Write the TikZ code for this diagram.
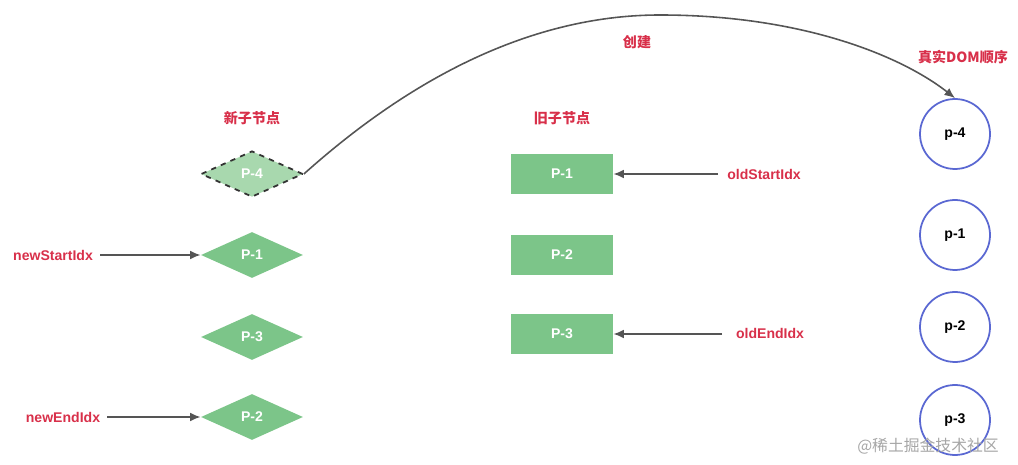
\documentclass[tikz,border=0pt]{standalone}
\usepackage{fontspec}
\setmainfont{Liberation Sans}
\newfontfamily\cjk{Noto Sans CJK SC}
\usetikzlibrary{shapes.geometric,arrows.meta}
\definecolor{lbl}{HTML}{D8304A}
\definecolor{gr}{HTML}{7CC589}
\definecolor{grl}{HTML}{A8D8AE}
\definecolor{bl}{HTML}{5A68D2}
\definecolor{ar}{HTML}{555555}
\tikzset{
 dia/.style={diamond,aspect=2.2,minimum width=102*0.02cm,minimum height=46*0.02cm,inner sep=0pt,fill=gr,text=white,font=\bfseries\footnotesize},
 rbox/.style={rectangle,minimum width=102*0.02cm,minimum height=40*0.02cm,fill=gr,text=white,font=\bfseries\footnotesize},
 circ/.style={circle,minimum size=70*0.02cm,draw=bl,line width=1pt,font=\bfseries\footnotesize},
 lab/.style={text=lbl,font=\bfseries\footnotesize},
 clab/.style={text=lbl,font=\cjk\bfseries\footnotesize},
 arr/.style={draw=ar,line width=0.9pt,-{Latex[length=6pt,width=5pt]}}
}
\begin{document}
\begin{tikzpicture}[x=0.02cm,y=-0.02cm]
\useasboundingbox (0,0) rectangle (1018,465);
\node[dia,fill=grl,draw=black!80,dashed,line width=1pt] (n4) at (252,174) {P-4};
\node[dia] (n1) at (252,255) {P-1};
\node[dia] (n3) at (252,337) {P-3};
\node[dia] (n2) at (252,417) {P-2};
\node[rbox] (o1) at (562,174) {P-1};
\node[rbox] (o2) at (562,255) {P-2};
\node[rbox] (o3) at (562,334) {P-3};
\node[circ] (c4) at (955,134) {p-4};
\node[circ] (c1) at (955,235) {p-1};
\node[circ] (c2) at (955,327) {p-2};
\node[circ] (c3) at (955,420) {p-3};
\node[clab] (t1) at (252,118) {新子节点};
\node[clab] (t2) at (562,118) {旧子节点};
\node[clab] (t3) at (637,42) {创建};
\node[clab] (t4) at (963,57) {真实DOM顺序};
\node[lab] (ns) at (53,255) {newStartIdx};
\node[lab] (ne) at (63,417) {newEndIdx};
\node[lab] (os) at (764,174) {oldStartIdx};
\node[lab] (oe) at (770,333) {oldEndIdx};
\coordinate (nsa) at (100,255);
\coordinate (nea) at (107,417);
\coordinate (osa) at (718,174);
\coordinate (oea) at (722,334);
\draw[arr] (nsa) -- (n1.west);
\draw[arr] (nea) -- (n2.west);
\draw[arr] (osa) -- (o1.east);
\draw[arr] (oea) -- (o3.east);
\draw[arr] (n4.east) .. controls (420,70) and (540,15) .. (660,15) .. controls (800,15) and (900,55) .. (c4.north);
\node[text=black!35,font=\cjk\small] (wm) at (928,446) {@稀土掘金技术社区};
\end{tikzpicture}
\end{document}
